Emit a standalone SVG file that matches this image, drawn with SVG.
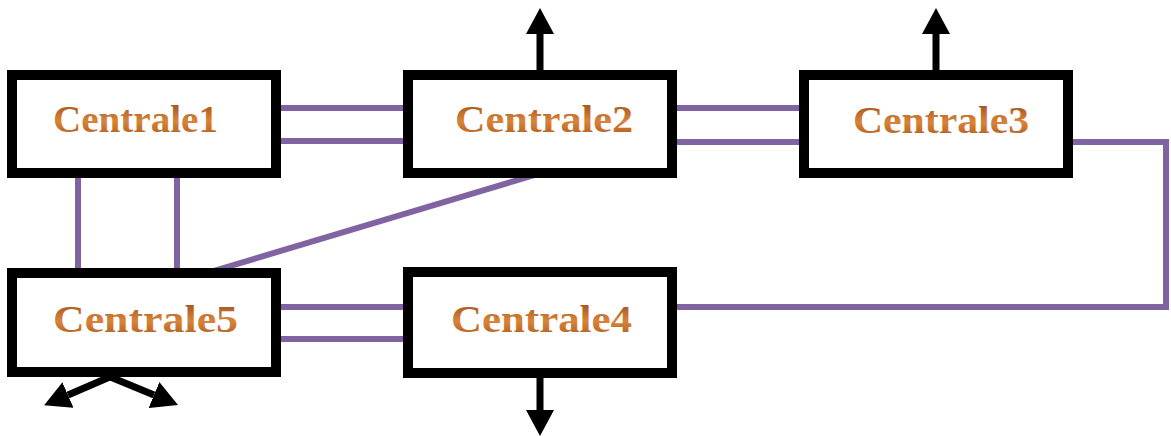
<svg xmlns="http://www.w3.org/2000/svg" width="1171" height="436" viewBox="0 0 1171 436">
  <defs>
    <linearGradient id="txt" x1="0" y1="0" x2="0" y2="1">
      <stop offset="0" stop-color="#8f4716"/>
      <stop offset="0.55" stop-color="#d9843a"/>
      <stop offset="1" stop-color="#a2541b"/>
    </linearGradient>
    <marker id="ah" markerUnits="userSpaceOnUse" markerWidth="26" markerHeight="28" refX="0" refY="14" orient="auto" viewBox="0 0 26 28">
      <path d="M0,0 L26,14 L0,28 z" fill="#000"/>
    </marker>
  </defs>
  <style>
    .box { fill: #fff; stroke: #000; stroke-width: 10; }
    .lbl { font-family: "Liberation Serif", "Times New Roman", serif; font-weight: bold; font-size: 38px; fill: url(#txt); }
    .link { stroke: #8064A2; stroke-width: 6; fill: none; }
    .out { stroke: #000; stroke-width: 7; fill: none; marker-end: url(#ah); }
  </style>
  <rect width="1171" height="436" fill="#fff"/>
  <g id="connectors">
    <line class="link" x1="278" y1="108" x2="408" y2="108"/>
    <line class="link" x1="278" y1="141" x2="408" y2="141"/>
    <line class="link" x1="672" y1="108" x2="804" y2="108"/>
    <line class="link" x1="672" y1="142" x2="804" y2="142"/>
    <line class="link" x1="278" y1="307" x2="408" y2="307"/>
    <line class="link" x1="278" y1="339" x2="408" y2="339"/>
    <line class="link" x1="78" y1="176" x2="78" y2="270"/>
    <line class="link" x1="177" y1="176" x2="177" y2="270"/>
    <line class="link" x1="538" y1="174" x2="210" y2="272"/>
    <polyline class="link" points="1070,142 1166,142 1166,307 675,307"/>
    <line class="out" x1="540" y1="70" x2="540" y2="34"/>
    <line class="out" x1="936" y1="70" x2="936" y2="34"/>
    <line class="out" x1="540" y1="378" x2="540" y2="410"/>
    <line class="out" x1="112" y1="376" x2="68" y2="395"/>
    <line class="out" x1="108" y1="376" x2="154" y2="395"/>
  </g>
  <g id="centrale1">
    <rect class="box" x="12" y="75" width="264" height="98"/>
    <text class="lbl" x="53" y="132" textLength="165" lengthAdjust="spacingAndGlyphs">Centrale1</text>
  </g>
  <g id="centrale2">
    <rect class="box" x="408" y="75" width="264" height="98"/>
    <text class="lbl" x="455" y="132" textLength="178" lengthAdjust="spacingAndGlyphs">Centrale2</text>
  </g>
  <g id="centrale3">
    <rect class="box" x="804" y="75" width="264" height="98"/>
    <text class="lbl" x="853" y="133" textLength="176" lengthAdjust="spacingAndGlyphs">Centrale3</text>
  </g>
  <g id="centrale5">
    <rect class="box" x="12" y="273" width="264" height="99"/>
    <text class="lbl" x="53" y="332" textLength="185" lengthAdjust="spacingAndGlyphs">Centrale5</text>
  </g>
  <g id="centrale4">
    <rect class="box" x="408" y="272" width="264" height="101"/>
    <text class="lbl" x="451" y="332" textLength="181" lengthAdjust="spacingAndGlyphs">Centrale4</text>
  </g>
</svg>
